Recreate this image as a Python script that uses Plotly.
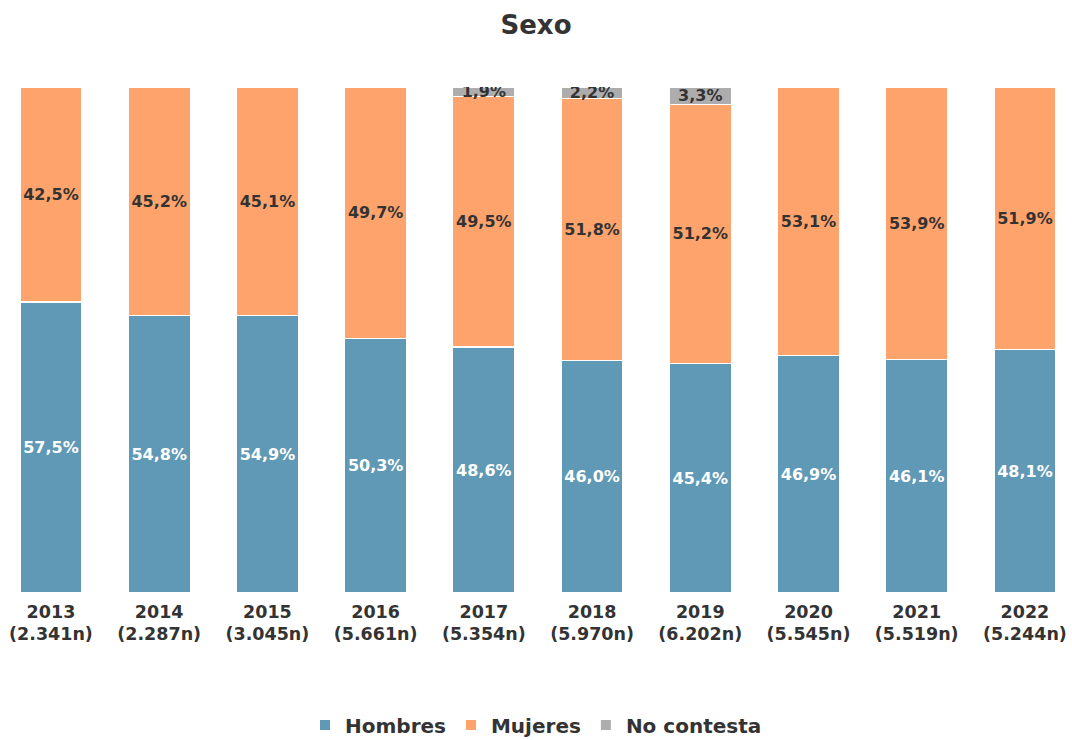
import plotly.graph_objects as go

years = ["2013", "2014", "2015", "2016", "2017", "2018", "2019", "2020", "2021", "2022"]
n_labels = ["2.341n", "2.287n", "3.045n", "5.661n", "5.354n", "5.970n", "6.202n", "5.545n", "5.519n", "5.244n"]
hombres = [57.5, 54.8, 54.9, 50.3, 48.6, 46.0, 45.4, 46.9, 46.1, 48.1]
mujeres = [42.5, 45.2, 45.1, 49.7, 49.5, 51.8, 51.2, 53.1, 53.9, 51.9]
no_contesta = [0, 0, 0, 0, 1.9, 2.2, 3.3, 0, 0, 0]

cats = [f"{y}<br>({n})" for y, n in zip(years, n_labels)]
FONT = "Verdana, DejaVu Sans, sans-serif"
DARK = "#333333"

def fmt(v):
    return f"{v:.1f}%".replace(".", ",") if v > 0 else ""

fig = go.Figure()
series = [
    ("Hombres", hombres, "#5F99B6", "white"),
    ("Mujeres", mujeres, "#FFA36C", DARK),
    ("No contesta", no_contesta, "#ADADAD", DARK),
]
for name, vals, col, tcol in series:
    fig.add_trace(go.Bar(
        name=name, x=list(range(len(cats))), y=vals,
        marker=dict(color=col, line=dict(color="white", width=1.2)),
        text=[fmt(v) for v in vals], textposition="inside",
        insidetextanchor="middle", textangle=0, constraintext="none",
        textfont=dict(family=FONT, size=16, color=tcol, weight="bold"),
        hoverinfo="skip",
    ))

fig.update_layout(
    barmode="stack", bargap=0.427,
    width=1072, height=740,
    margin=dict(l=0, r=0, t=87, b=147, autoexpand=False),
    paper_bgcolor="white", plot_bgcolor="white",
    title=dict(text="<b>Sexo</b>", x=0.5, xanchor="center", y=1 - 25 / 740, yanchor="middle",
               font=dict(family=FONT, size=26, color=DARK)),
    xaxis=dict(tickmode="array", tickvals=list(range(len(cats))), ticktext=[f"<b>{c}</b>" for c in cats],
               range=[-0.471, 9.435], showgrid=False, zeroline=False, showline=False, ticks="",
               ticklabelstandoff=6,
               automargin=False, tickfont=dict(family=FONT, size=17.5, color=DARK)),
    yaxis=dict(range=[0, 100], visible=False, automargin=False),
    legend=dict(orientation="h", x=0.5, xanchor="center", xref="container",
                y=1 - 725 / 740, yanchor="middle", yref="container",
                font=dict(family=FONT, size=20, color=DARK, weight="bold"),
                itemsizing="constant", traceorder="normal"),
    showlegend=True,
)

fig.write_html("out.html", config={"displayModeBar": False},
               post_script="document.body.style.margin='0';")
